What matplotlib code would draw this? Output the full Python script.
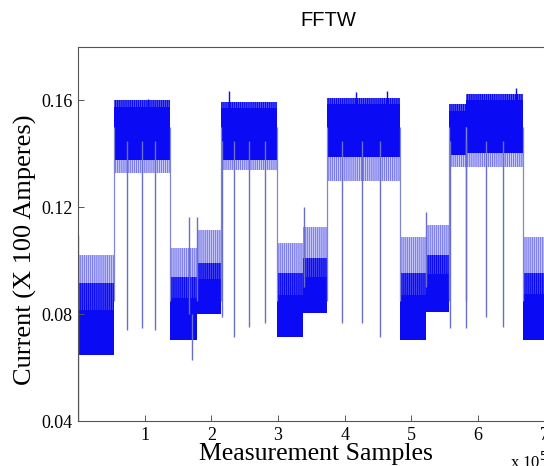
import numpy as np
import matplotlib
matplotlib.use('Agg')
import matplotlib.pyplot as plt

plt.rcParams['hatch.linewidth'] = 1.0

# low-current phases (x in units of 1e5 samples)
low_x0 = [0.0, 1.377, 1.781, 2.979, 3.368, 4.835, 5.225, 6.677]
low_x1 = [0.539, 1.781, 2.141, 3.368, 3.728, 5.225, 5.569, 7.5]
low_floor = [0.0647, 0.0703, 0.0800, 0.0714, 0.0804, 0.0703, 0.0807, 0.0703]
low_dense = [0.0815, 0.0860, 0.0930, 0.0870, 0.0940, 0.0870, 0.0950, 0.0875]
low_mixed = [0.0916, 0.0938, 0.0990, 0.0955, 0.1010, 0.0953, 0.1020, 0.0953]
low_comb = [0.1020, 0.1047, 0.1114, 0.1065, 0.1125, 0.1088, 0.1133, 0.1088]

# high-current phases
high_x0 = [0.539, 2.141, 3.728, 5.569, 5.823]
high_x1 = [1.377, 2.979, 4.835, 5.823, 6.677]
high_dip = [0.1327, 0.1340, 0.1300, 0.1350, 0.1350]
high_floor = [0.1376, 0.1376, 0.1387, 0.1394, 0.1402]
high_top = [0.1575, 0.1570, 0.1585, 0.1560, 0.1600]
high_crest = [0.1600, 0.1595, 0.1610, 0.1585, 0.1625]

# single-sample glitches: position, lowest and highest value
glitch_x = [0.0, 0.734, 0.958, 1.153, 1.662, 1.707, 1.781, 2.156, 2.335, 2.560, 2.799,
            3.383, 3.967, 4.266, 4.536, 5.225, 5.584, 5.823, 6.123, 6.377]
glitch_lo = [0.0400, 0.0740, 0.0748, 0.0740, 0.0800, 0.0628, 0.0850, 0.0789, 0.0714, 0.0751, 0.0766,
             0.0900, 0.0766, 0.0766, 0.0714, 0.0900, 0.0748, 0.0748, 0.0789, 0.0751]
glitch_hi = [0.1095, 0.1450, 0.1450, 0.1450, 0.1162, 0.0800, 0.1162, 0.1450, 0.1450, 0.1450, 0.1450,
             0.1200, 0.1450, 0.1450, 0.1450, 0.1181, 0.1450, 0.1450, 0.1450, 0.1450]

# noise peaks above the high phases
peak_x = [1.048, 2.260, 4.177, 4.641, 6.572]
peak_hi = [0.1607, 0.1637, 0.1630, 0.1637, 0.1645]

blue = '#0a0af5'

fig = plt.figure(figsize=(5.44, 4.66), dpi=100)
ax = fig.add_axes([78 / 544, 45 / 466, 500 / 544, 374 / 466])

# edges between phases and glitches
ax.vlines(high_x0 + high_x1, 0.085, 0.15, color='#8085d8', lw=0.9)
ax.vlines(glitch_x, glitch_lo, glitch_hi, color='#6a6fc8', lw=1.0)
ax.vlines(peak_x, 0.15, peak_hi, color=blue, lw=1.0)

# low phases: comb of light spikes, mixed zone, dense core
w_low = np.subtract(low_x1, low_x0)
ax.bar(low_x0, np.subtract(low_comb, low_floor), width=w_low, bottom=low_floor,
       align='edge', color='#e2e2fc', edgecolor='#8080f0', hatch='||||||||', lw=0)
ax.bar(low_x0, np.subtract(low_mixed, low_floor), width=w_low, bottom=low_floor,
       align='edge', color='#5a5af2', edgecolor=blue, hatch='||||||||', lw=0)
ax.bar(low_x0, np.subtract(low_dense, low_floor), width=w_low, bottom=low_floor,
       align='edge', color=blue, lw=0)

# high phases: ragged fringes and dense core
w_high = np.subtract(high_x1, high_x0)
ax.bar(high_x0, np.subtract(high_floor, high_dip), width=w_high, bottom=high_dip,
       align='edge', color='#ececfd', edgecolor='#7a7af0', hatch='||||||||', lw=0)
ax.bar(high_x0, np.subtract(high_crest, high_top), width=w_high, bottom=high_top,
       align='edge', color='#7070f3', edgecolor=blue, hatch='||||||||', lw=0)
ax.bar(high_x0, np.subtract(high_top, high_floor), width=w_high, bottom=high_floor,
       align='edge', color=blue, lw=0)

ax.set_xlim(0, 7.5)
ax.set_ylim(0.04, 0.18)
ax.set_xticks([1, 2, 3, 4, 5, 6, 7])
ax.set_yticks([0.04, 0.08, 0.12, 0.16])
ax.set_yticklabels(['0.04', '0.08', '0.12', '0.16'])
ax.tick_params(direction='in', length=4, width=0.7, color='#555555',
               labelsize=13, pad=4)
for lab in ax.get_xticklabels() + ax.get_yticklabels():
    lab.set_family('Liberation Serif')
for s in ax.spines.values():
    s.set_color('#555555')
    s.set_linewidth(0.8)

ax.set_title('FFTW', family='Liberation Sans', fontsize=14.5, pad=15)
fig.text(25 / 544, 1 - 250 / 466, 'Current (X 100 Amperes)', rotation=90,
         ha='center', va='center', family='Liberation Serif', fontsize=19)
fig.text(316 / 544, 1 - 454 / 466, 'Measurement Samples', ha='center', va='center',
         family='Liberation Serif', fontsize=18.5)
fig.text(510 / 544, 1 - 462 / 466, 'x 10$^5$', ha='left', va='center',
         family='Liberation Serif', fontsize=12)

fig.savefig('out.png', dpi=100)
